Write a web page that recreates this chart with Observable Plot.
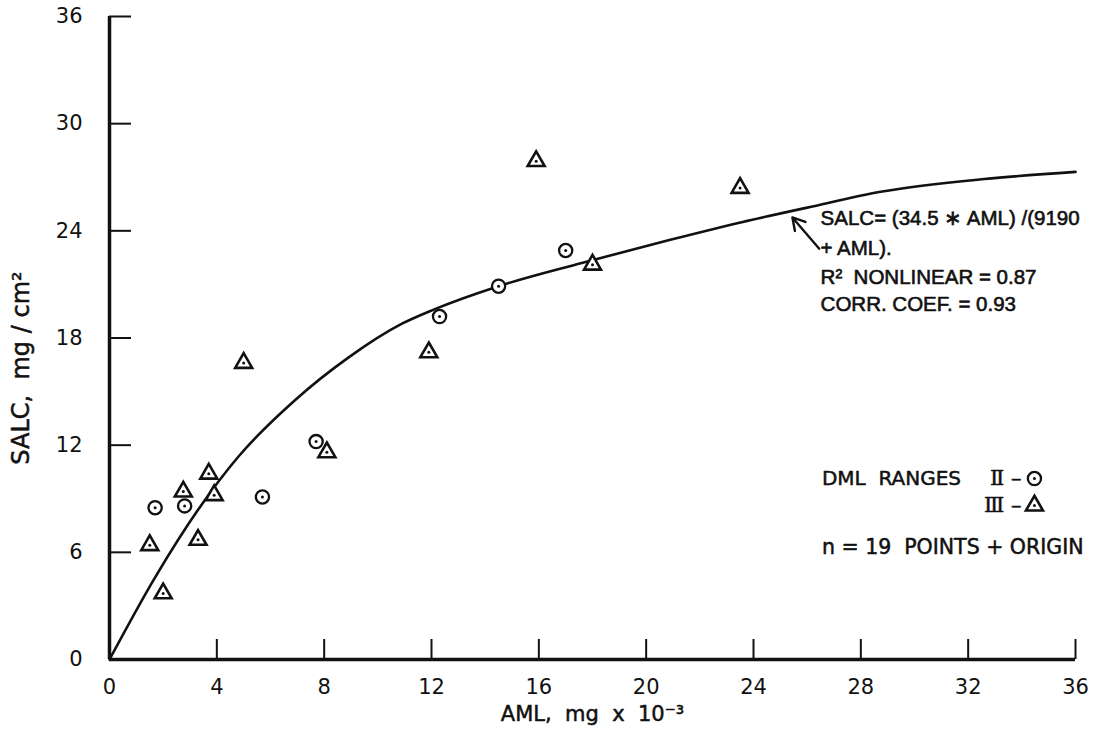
<!DOCTYPE html>
<html>
<head>
<meta charset="utf-8">
<script src="https://cdn.jsdelivr.net/npm/d3@7"></script>
<script src="https://cdn.jsdelivr.net/npm/@observablehq/plot@0.6"></script>
<style>
  html, body { margin: 0; padding: 0; background: #fff; }
  #chart svg { display: block; }
</style>
</head>
<body>
<div id="chart"></div>
<script>
// ---- data ----
const xTicks = [0, 4, 8, 12, 16, 20, 24, 28, 32, 36];
const yTicks = [0, 6, 12, 18, 24, 30, 36];

// DML range II (circles)
const circleAML  = [1.7, 2.8, 5.7, 7.7, 12.3, 14.5, 17.0];
const circleSALC = [8.5, 8.6, 9.1, 12.2, 19.2, 20.9, 22.9];

// DML range III (triangles)
const triangleAML  = [1.5, 2.0, 2.75, 3.3, 3.7, 3.9, 5.0, 8.1, 11.9, 15.9, 18.0, 23.5];
const triangleSALC = [6.4, 3.7, 9.4, 6.7, 10.4, 9.2, 16.6, 11.6, 17.2, 27.9, 22.1, 26.4];

// fitted curve as drawn
const curveAML  = [0, 1.7, 3.4, 4.8, 6.9, 8.9, 10.9, 12.1, 14.5, 17.6, 20.9, 23.6, 26.0, 28.8, 32.6, 36];
const curveSALC = [0, 4.6, 8.6, 11.35, 14.5, 16.9, 18.8, 19.6, 20.9, 22.2, 23.5, 24.5, 25.3, 26.2, 26.9, 27.3];

// texts
const xTitle = "AML,  mg  x  10\u207B\u00B3";
const yTitle = "SALC,  mg / cm\u00B2";
const formulaLines = ["SALC= (34.5 \u2217 AML) /(9190", "+ AML).", "R\u00B2  NONLINEAR = 0.87", "CORR. COEF. = 0.93"];
const legendTitle = "DML  RANGES";
const legendLabels = ["\u2161 \u2013", "\u2162 \u2013"];
const legendSymbols = ["circle", "triangle"];
const countNote = "n = 19  POINTS + ORIGIN";

// annotation placement (data space)
const formulaX = 26.5;
const formulaY = [24.67, 23.04, 21.4, 19.88];
const arrowAnchor = {x1: 26.45, y1: 23.0, x2: 25.45, y2: 24.75};
const legendAnchor = {x: 26.55, yTitle: 10.13, xSym: 34.47, ySym: [10.13, 8.62], yNote: 6.27};

// ---- build tables ----
const circles = circleAML.map((a, i) => ({aml: a, salc: circleSALC[i]}));
const triangles = triangleAML.map((a, i) => ({aml: a, salc: triangleSALC[i]}));
const allPts = circles.concat(triangles);
const curve = curveAML.map((a, i) => ({aml: a, salc: curveSALC[i]}));
const legend = legendLabels.map((l, i) => ({label: l, symbol: legendSymbols[i], y: legendAnchor.ySym[i]}));
const formula = formulaLines.map((t, i) => ({text: t, y: formulaY[i]}));

const FONT = "'DejaVu Sans', 'Liberation Sans', sans-serif";
const INK = "#111";
const txt = {fill: INK, stroke: INK, strokeWidth: 0.5, paintOrder: "fill"};

const chart = Plot.plot({
  width: 1094,
  height: 744,
  marginLeft: 109,
  marginRight: 19,
  marginTop: 16,
  marginBottom: 85,
  x: {domain: [0, 36]},
  y: {domain: [0, 36]},
  style: {fontFamily: FONT, fontSize: "20px", color: INK, background: "#fff", overflow: "visible"},
  marks: [
    // inward tick marks
    Plot.axisX(xTicks, {tickSize: 20, dy: -20, tickFormat: () => "", strokeWidth: 2, label: null, stroke: INK}),
    Plot.axisY(yTicks, {tickSize: 22, dx: 22, tickFormat: () => "", strokeWidth: 2, label: null, stroke: INK}),
    // tick labels
    Plot.axisX(xTicks, {tickSize: 0, tickPadding: 20, fontSize: 21, label: null, ...txt}),
    Plot.axisY(yTicks, {tickSize: 0, tickPadding: 27, fontSize: 21, label: null, ...txt}),
    Plot.ruleX([0], {stroke: INK, strokeWidth: 3.5}),
    Plot.ruleY([0], {stroke: INK, strokeWidth: 3.5}),
    Plot.line(curve, {x: "aml", y: "salc", curve: "monotone-x", stroke: INK, strokeWidth: 2.6}),
    Plot.dot(circles, {x: "aml", y: "salc", symbol: "circle", r: 6.6, stroke: INK, strokeWidth: 2.3, fill: "#fff"}),
    Plot.dot(triangles, {x: "aml", y: "salc", symbol: "triangle", r: 6.3, stroke: INK, strokeWidth: 2.6, fill: "#fff"}),
    Plot.dot(allPts, {x: "aml", y: "salc", r: 1.5, fill: INK}),
    // formula annotation
    Plot.text(formula, {x: () => formulaX, y: "y", text: "text", textAnchor: "start", fontSize: 20.5, fontFamily: "'Liberation Sans', Arial, sans-serif", ...txt, strokeWidth: 0.6}),
    Plot.arrow([arrowAnchor], {x1: "x1", y1: "y1", x2: "x2", y2: "y2", stroke: INK, strokeWidth: 2.4, headLength: 13}),
    // legend
    Plot.text([legendTitle], {x: () => legendAnchor.x, y: () => legendAnchor.yTitle, textAnchor: "start", fontSize: 20, ...txt}),
    Plot.text(legend, {x: () => legendAnchor.xSym, y: "y", text: "label", textAnchor: "end", dx: -13, fontSize: 21, fontFamily: "'DejaVu Serif', serif", ...txt}),
    Plot.dot(legend.filter(d => d.symbol === "circle"), {x: () => legendAnchor.xSym, y: "y", symbol: "circle", r: 6.6, stroke: INK, strokeWidth: 2.3, fill: "#fff"}),
    Plot.dot(legend.filter(d => d.symbol === "triangle"), {x: () => legendAnchor.xSym, y: "y", symbol: "triangle", r: 6.3, stroke: INK, strokeWidth: 2.6, fill: "#fff"}),
    Plot.dot(legend, {x: () => legendAnchor.xSym, y: "y", r: 1.5, fill: INK}),
    Plot.text([countNote], {x: () => legendAnchor.x, y: () => legendAnchor.yNote, textAnchor: "start", fontSize: 20.5, ...txt}),
    // axis titles
    Plot.text([xTitle], {frameAnchor: "bottom", textAnchor: "middle", dy: 61, fontSize: 21, ...txt}),
    Plot.text([yTitle], {frameAnchor: "left", textAnchor: "middle", rotate: -90, dx: -88, dy: 30, fontSize: 24, ...txt})
  ]
});
document.getElementById("chart").appendChild(chart);
</script>
</body>
</html>
